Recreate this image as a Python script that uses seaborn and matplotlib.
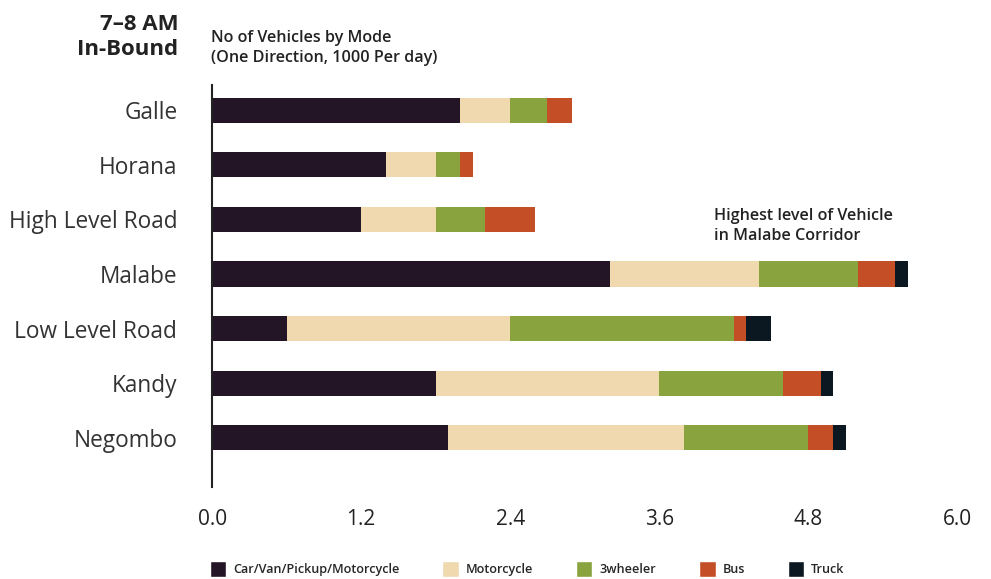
import numpy as np
import pandas as pd
import seaborn as sns
import matplotlib.pyplot as plt
from matplotlib.patches import Patch

corridors = ['Galle', 'Horana', 'High Level Road', 'Malabe', 'Low Level Road', 'Kandy', 'Negombo']
modes = ['Car/Van/Pickup/Motorcycle', 'Motorcycle', '3wheeler', 'Bus', 'Truck']
car = [2.0, 1.4, 1.2, 3.2, 0.6, 1.8, 1.9]
moto = [0.4, 0.4, 0.6, 1.2, 1.8, 1.8, 1.9]
three_wheeler = [0.3, 0.2, 0.4, 0.8, 1.8, 1.0, 1.0]
bus = [0.2, 0.1, 0.4, 0.3, 0.1, 0.3, 0.2]
truck = [0.0, 0.0, 0.0, 0.1, 0.2, 0.1, 0.1]
colors = ['#231526', '#F0D8AF', '#89A43E', '#C44F27', '#0B1822']
ticks = [0.0, 1.2, 2.4, 3.6, 4.8, 6.0]

df = pd.DataFrame({'corridor': corridors, modes[0]: car, modes[1]: moto,
                   modes[2]: three_wheeler, modes[3]: bus, modes[4]: truck})
cum = df[modes].cumsum(axis=1)
cum['corridor'] = corridors

sns.set_style('white')
plt.rcParams['font.family'] = ['Open Sans', 'DejaVu Sans']

fig = plt.figure(figsize=(9.91, 5.79), dpi=100)
ax = fig.add_axes([0.214, 0.159, 0.752, 0.694])

# stacked bars: draw cumulative totals, largest first
for m, c in reversed(list(zip(modes, colors))):
    sns.barplot(data=cum, x=m, y='corridor', color=c, width=0.46,
                saturation=1, ax=ax, orient='h', linewidth=0)

ax.set_xlim(0, 6.0)
ax.set_ylim(6.9, -0.46)
ax.set_xticks(ticks)
ax.set_xticklabels([f'{t:.1f}' for t in ticks], fontsize=15, color='#222222')
ax.tick_params(axis='x', length=0, pad=16)
ax.tick_params(axis='y', length=0, pad=25, labelsize=16.3, labelcolor='#333333')
ax.set_xlabel('')
ax.set_ylabel('')
for s in ['top', 'right', 'bottom']:
    ax.spines[s].set_visible(False)
ax.spines['left'].set_color('#222222')
ax.spines['left'].set_linewidth(1.5)

fig.text(0.180, 0.975, '7–8 AM\nIn-Bound', ha='right', va='top', fontsize=16,
         fontweight='bold', color='#222222', linespacing=1.2)
fig.text(0.213, 0.948, 'No of Vehicles by Mode\n(One Direction, 1000 Per day)',
         ha='left', va='top', fontsize=11.6, fontweight='semibold', color='#222222', linespacing=1.3)
ax.text(4.04, 2.45, 'Highest level of Vehicle\nin Malabe Corridor', ha='left', va='bottom',
        fontsize=11.6, fontweight='semibold', color='#222222', linespacing=1.3)

handles = [Patch(facecolor=c, label=m) for m, c in zip(modes, colors)]
fig.legend(handles=handles, loc='center left', bbox_to_anchor=(0.200, 0.017), ncol=5,
           frameon=False, handlelength=1.3, handleheight=1.5,
           columnspacing=3.4, handletextpad=0.55,
           prop={'size': 9.1, 'weight': 'semibold'})

fig.savefig('out.png', dpi=100)
